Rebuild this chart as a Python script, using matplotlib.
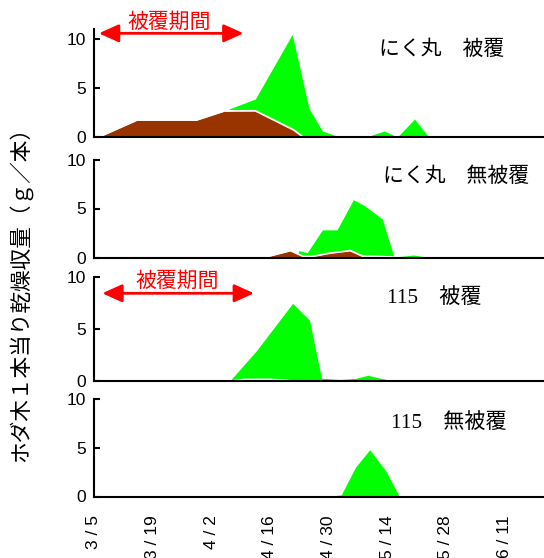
import matplotlib.pyplot as plt

plt.rcParams['font.family'] = ['Liberation Sans', 'Noto Sans CJK JP']

# days counted from 3/5
tick_days = [0, 14, 28, 42, 56, 70, 84, 98]
tick_labels = ['3 / 5', '3 / 19', '4 / 2', '4 / 16', '4 / 30', '5 / 14', '5 / 28', '6 / 11']

# にく丸 被覆
p1_green_day = [31, 32.3, 38.5, 47.3, 51.3, 54.5, 58, 65.6, 69.3, 72.4, 76.5, 79.5, 81.9]
p1_green_val = [0, 2.9, 3.9, 10.48, 2.95, 0.64, 0.13, 0.13, 0.64, 0.03, 1.86, 0.23, 0]
p1_brown_day = [1, 10.3, 24.5, 31.1, 38.5, 47.7, 50]
p1_brown_val = [0, 1.76, 1.76, 2.68, 2.7, 0.74, 0]

# にく丸 無被覆
p2_green_day = [48.2, 48.9, 50.9, 54.5, 58, 61.9, 64.6, 68.8, 71.6, 76.3, 80.3]
p2_green_val = [0, 0.7, 0.5, 2.82, 2.82, 5.9, 5.28, 3.92, 0.05, 0.25, 0]
p2_brown_day = [40.5, 46.9, 50, 52, 56.4, 61.2, 64, 70.8, 72]
p2_brown_val = [0, 0.7, 0.1, 0.1, 0.45, 0.7, 0.15, 0.05, 0]

# 115 被覆
p3_green_day = [32.4, 38.9, 47.4, 51.4, 54.3, 58.8, 62.4, 65.4, 68, 71.5]
p3_green_val = [0, 2.97, 7.45, 5.85, 0.26, 0.15, 0.25, 0.55, 0.3, 0]
p3_brown_day = [33, 36, 42, 46, 47]
p3_brown_val = [0, 0.15, 0.15, 0.05, 0]

# 115 無被覆
p4_green_day = [55.7, 59, 62.4, 65.8, 69.6, 72.9]
p4_green_val = [0, 0.17, 3.0, 4.8, 2.65, 0]
p4_brown_day = []
p4_brown_val = []

# covering period (days) for the red arrows
cover_p1 = (1.15, 35.7)
cover_p3 = (1.96, 38.2)

GREEN = '#00ff00'
BROWN = '#993300'

fig = plt.figure(figsize=(5.44, 5.58), dpi=100)

W, H = 544, 558
left = 94 / W
# (top px, bottom px, ymax)
boxes = [(29.3, 137.3, 11), (159.5, 257.5, 10), (276.7, 381, 10), (399, 496.5, 10)]

panels = [
    (p1_green_day, p1_green_val, p1_brown_day, p1_brown_val, None, 'にく丸　被覆', (0.634, 0.815)),
    (p2_green_day, p2_green_val, p2_brown_day, p2_brown_val, None, 'にく丸　無被覆', (0.642, 0.832)),
    (p3_green_day, p3_green_val, p3_brown_day, p3_brown_val, '115', '被覆', (0.651, 0.793)),
    (p4_green_day, p4_green_val, p4_brown_day, p4_brown_val, '115', '無被覆', (0.659, 0.751)),
]

axes = []
for i, ((top, bot, ymax), (gd, gv, bd, bv, num, name, pos)) in enumerate(zip(boxes, panels)):
    ax = fig.add_axes([left, 1 - bot / H, 1 - left, (bot - top) / H])
    axes.append(ax)
    ax.fill_between(gd, gv, 0, color=GREEN, lw=0, zorder=1)
    if bd:
        ax.fill_between(bd, bv, 0, color=BROWN, lw=0, zorder=2)
        ax.plot(bd, bv, color='white', lw=1.3, zorder=3)
    ax.set_xlim(0, 107.4)
    ax.set_ylim(0, ymax)
    ax.set_yticks([0, 5, 10])
    ax.set_yticklabels(['0', '5', '10'])
    for s in ['top', 'right']:
        ax.spines[s].set_visible(False)
    for s in ['left', 'bottom']:
        ax.spines[s].set_linewidth(1.5)
        ax.spines[s].set_zorder(5)
    ax.tick_params(axis='y', direction='in', length=4.5, width=1.5, labelsize=12.5, pad=5.5)
    ax.set_xticks(tick_days)
    if i == 3:
        ax.set_xticklabels(tick_labels, rotation=90, ha='center', va='top', fontsize=12.5)
        ax.tick_params(axis='x', length=0, pad=13.5)
    else:
        ax.tick_params(axis='x', length=0, labelbottom=False)

    if num is None:
        ax.text(pos[0], pos[1], name, transform=ax.transAxes, ha='left', va='center',
                fontsize=15, family=['Noto Sans CJK JP'])
    else:
        ax.text(pos[0], pos[1], num + '　' + name, transform=ax.transAxes, ha='left', va='center',
                fontsize=15.2, family=['Liberation Serif', 'Noto Sans CJK JP'])

arrow_style = '<|-|>,head_length=0.6,head_width=0.27'
for ax, (x0, x1), y_arrow, (tx, ty) in [(axes[0], cover_p1, 10.59, (18.0, 11.74)),
                                        (axes[2], cover_p3, 8.41, (19.9, 9.6))]:
    ax.annotate('', xy=(x1, y_arrow), xytext=(x0, y_arrow),
                arrowprops=dict(arrowstyle=arrow_style, color='red', lw=2,
                                mutation_scale=20, shrinkA=0, shrinkB=0),
                annotation_clip=False)
    ax.text(tx, ty, '被覆期間', color='red', ha='center', va='center', fontsize=15,
            family=['Noto Sans CJK JP'], clip_on=False)

fig.text(20 / W, 1 - 289 / H, 'ホダ木１本当り乾燥収量（ｇ／本）', rotation=90,
         ha='center', va='center', fontsize=15.6, family=['Noto Sans CJK JP'])

fig.savefig('out.png', dpi=100)
